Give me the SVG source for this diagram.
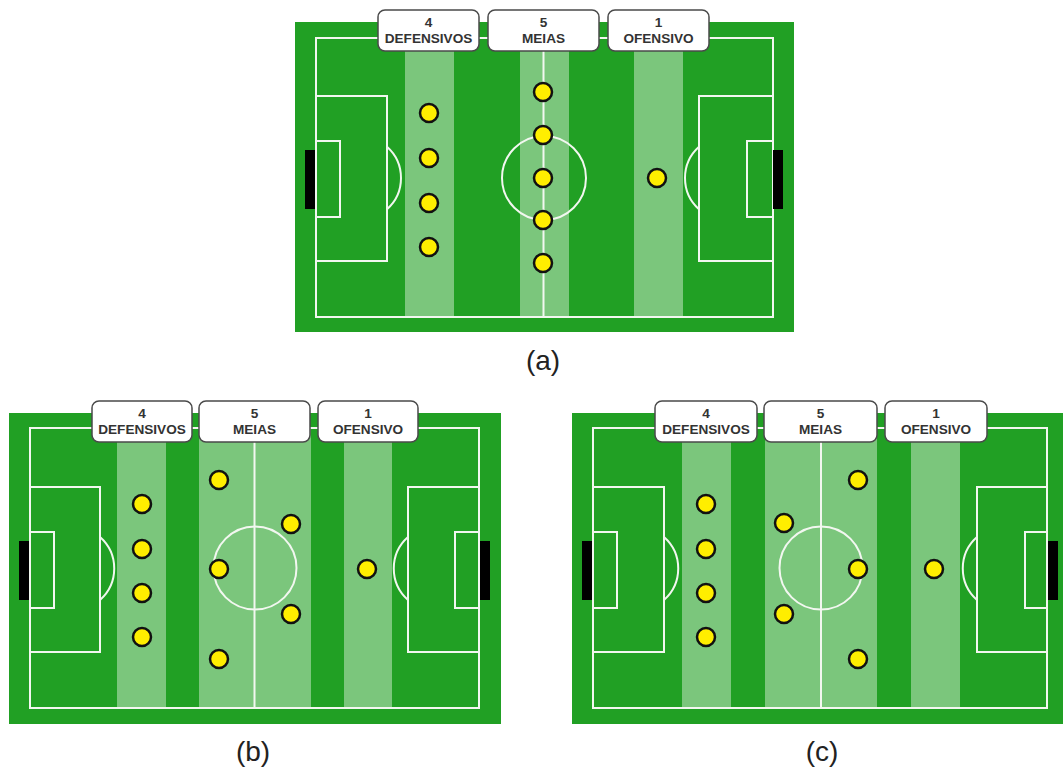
<svg xmlns="http://www.w3.org/2000/svg" width="1063" height="769" viewBox="0 0 1063 769">
  <style>
    .grass { fill: #21a024; }
    .stripe { fill: #7bc67c; }
    .line { fill: none; stroke: #f2f7f0; stroke-width: 2; }
    .goal { fill: #000; }
    .player { fill: #ffee00; stroke: #111; stroke-width: 2.5; }
    .tag rect { fill: #fff; stroke: #4a4a4a; stroke-width: 1.5; }
    .tag text { font-family: "Liberation Sans", Arial, sans-serif; font-weight: bold; font-size: 13.6px; fill: #333; text-anchor: middle; }
    .caption { font-family: "Liberation Sans", Arial, sans-serif; font-size: 28px; fill: #222; text-anchor: middle; }
  </style>
  <rect width="1063" height="769" fill="#fff"/>

  <!-- Formation (a): 4-5-1 with midfield line -->
  <g id="field-a">
    <rect class="grass" x="295" y="22" width="499" height="310"/>
    <rect class="stripe" x="405" y="38" width="49" height="279"/>
    <rect class="stripe" x="520" y="38" width="49" height="279"/>
    <rect class="stripe" x="634" y="38" width="49" height="279"/>
    <rect class="line" x="316" y="38" width="457" height="279"/>
    <line class="line" x1="543.5" y1="38" x2="543.5" y2="317"/>
    <circle class="line" cx="544" cy="178" r="42"/>
    <rect class="line" x="316" y="96" width="71" height="165"/>
    <rect class="line" x="316" y="141" width="24" height="76"/>
    <path class="line" d="M387 146.7 A42 42 0 0 1 387 209.3"/>
    <rect class="line" x="699" y="96" width="74" height="165"/>
    <rect class="line" x="747" y="141" width="26" height="76"/>
    <path class="line" d="M699 146.7 A42 42 0 0 0 699 209.3"/>
    <rect class="goal" x="305" y="150" width="10" height="59"/>
    <rect class="goal" x="773" y="150" width="10" height="59"/>
  </g>
  <g id="players-a">
    <circle class="player" cx="429" cy="113" r="9"/>
    <circle class="player" cx="429" cy="158" r="9"/>
    <circle class="player" cx="429" cy="203" r="9"/>
    <circle class="player" cx="429" cy="247" r="9"/>
    <circle class="player" cx="543" cy="92" r="9"/>
    <circle class="player" cx="543" cy="135" r="9"/>
    <circle class="player" cx="543" cy="178" r="9"/>
    <circle class="player" cx="543" cy="220" r="9"/>
    <circle class="player" cx="543" cy="263" r="9"/>
    <circle class="player" cx="657" cy="178" r="9"/>
  </g>
  <g id="tags-a">
    <g class="tag"><rect x="378" y="10" width="101" height="41" rx="7"/><text x="428.5" y="27">4</text><text x="428.5" y="43">DEFENSIVOS</text></g>
    <g class="tag"><rect x="488" y="10" width="111" height="41" rx="7"/><text x="543.5" y="27">5</text><text x="543.5" y="43">MEIAS</text></g>
    <g class="tag"><rect x="608" y="10" width="101" height="41" rx="7"/><text x="658.5" y="27">1</text><text x="658.5" y="43">OFENSIVO</text></g>
  </g>
  <text id="caption-a" class="caption" x="543" y="370">(a)</text>

  <!-- Formation (b): midfield diamond opening forward -->
  <g id="field-b">
    <rect class="grass" x="9" y="413" width="492" height="311"/>
    <rect class="stripe" x="117" y="428" width="49" height="280"/>
    <rect class="stripe" x="199" y="428" width="112" height="280"/>
    <rect class="stripe" x="344" y="428" width="48" height="280"/>
    <rect class="line" x="30" y="428" width="449" height="280"/>
    <line class="line" x1="254.5" y1="428" x2="254.5" y2="708"/>
    <circle class="line" cx="255" cy="568" r="41.5"/>
    <rect class="line" x="30" y="487" width="70" height="165"/>
    <rect class="line" x="30" y="532" width="24" height="76"/>
    <path class="line" d="M100 537 A42 42 0 0 1 100 600"/>
    <rect class="line" x="408" y="487" width="71" height="165"/>
    <rect class="line" x="455" y="532" width="24" height="76"/>
    <path class="line" d="M408 537 A42 42 0 0 0 408 600"/>
    <rect class="goal" x="19" y="541" width="10" height="59"/>
    <rect class="goal" x="480" y="541" width="10" height="59"/>
  </g>
  <g id="players-b">
    <circle class="player" cx="142" cy="504" r="9"/>
    <circle class="player" cx="142" cy="549" r="9"/>
    <circle class="player" cx="142" cy="593" r="9"/>
    <circle class="player" cx="142" cy="637" r="9"/>
    <circle class="player" cx="219" cy="480" r="9"/>
    <circle class="player" cx="291" cy="524" r="9"/>
    <circle class="player" cx="219" cy="569" r="9"/>
    <circle class="player" cx="291" cy="614" r="9"/>
    <circle class="player" cx="219" cy="659" r="9"/>
    <circle class="player" cx="367" cy="569" r="9"/>
  </g>
  <g id="tags-b">
    <g class="tag"><rect x="92" y="401" width="100" height="41" rx="7"/><text x="142" y="418">4</text><text x="142" y="434">DEFENSIVOS</text></g>
    <g class="tag"><rect x="199" y="401" width="111" height="41" rx="7"/><text x="254.5" y="418">5</text><text x="254.5" y="434">MEIAS</text></g>
    <g class="tag"><rect x="318" y="401" width="100" height="41" rx="7"/><text x="368" y="418">1</text><text x="368" y="434">OFENSIVO</text></g>
  </g>
  <text id="caption-b" class="caption" x="253" y="761">(b)</text>

  <!-- Formation (c): midfield diamond mirrored -->
  <g id="field-c">
    <rect class="grass" x="572" y="413" width="491" height="311"/>
    <rect class="stripe" x="682" y="428" width="49" height="280"/>
    <rect class="stripe" x="765" y="428" width="112" height="280"/>
    <rect class="stripe" x="911" y="428" width="49" height="280"/>
    <rect class="line" x="593" y="428" width="454" height="280"/>
    <line class="line" x1="821" y1="428" x2="821" y2="708"/>
    <circle class="line" cx="821" cy="568" r="41.5"/>
    <rect class="line" x="593" y="487" width="71" height="165"/>
    <rect class="line" x="593" y="532" width="24" height="76"/>
    <path class="line" d="M664 537 A42 42 0 0 1 664 600"/>
    <rect class="line" x="977" y="487" width="70" height="165"/>
    <rect class="line" x="1025" y="532" width="22" height="76"/>
    <path class="line" d="M977 537 A42 42 0 0 0 977 600"/>
    <rect class="goal" x="582" y="541" width="10" height="59"/>
    <rect class="goal" x="1048" y="541" width="10" height="59"/>
  </g>
  <g id="players-c">
    <circle class="player" cx="706" cy="504" r="9"/>
    <circle class="player" cx="706" cy="549" r="9"/>
    <circle class="player" cx="706" cy="593" r="9"/>
    <circle class="player" cx="706" cy="637" r="9"/>
    <circle class="player" cx="858" cy="480" r="9"/>
    <circle class="player" cx="784" cy="523" r="9"/>
    <circle class="player" cx="858" cy="569" r="9"/>
    <circle class="player" cx="784" cy="614" r="9"/>
    <circle class="player" cx="858" cy="659" r="9"/>
    <circle class="player" cx="934" cy="569" r="9"/>
  </g>
  <g id="tags-c">
    <g class="tag"><rect x="655" y="401" width="102" height="41" rx="7"/><text x="706" y="418">4</text><text x="706" y="434">DEFENSIVOS</text></g>
    <g class="tag"><rect x="764" y="401" width="113" height="41" rx="7"/><text x="820.5" y="418">5</text><text x="820.5" y="434">MEIAS</text></g>
    <g class="tag"><rect x="885" y="401" width="102" height="41" rx="7"/><text x="936" y="418">1</text><text x="936" y="434">OFENSIVO</text></g>
  </g>
  <text id="caption-c" class="caption" x="822" y="761">(c)</text>

  <!-- no connectors in this figure -->
  <g id="connectors"/>
</svg>
